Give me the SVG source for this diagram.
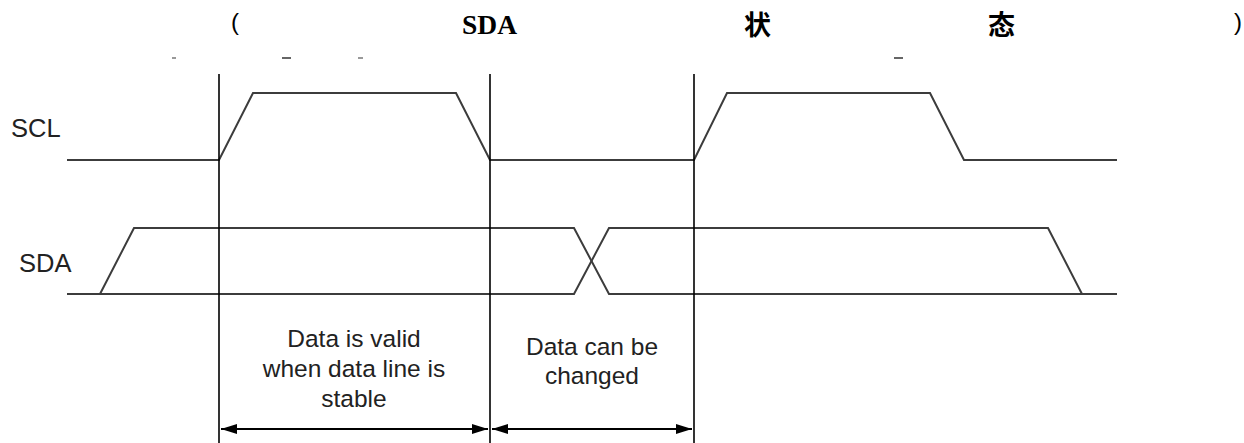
<svg xmlns="http://www.w3.org/2000/svg" width="1244" height="443" viewBox="0 0 1244 443">
<style>
.wave{fill:none;stroke:#3c3c3c;stroke-width:2;stroke-linejoin:miter}
.vline{stroke:#000;stroke-width:1.6}
.dim{stroke:#000;stroke-width:2;fill:none}
.lbl{font-family:"Liberation Sans",Arial,sans-serif;font-size:25.5px;fill:#222}
.note{font-family:"Liberation Sans",Arial,sans-serif;font-size:24.5px;fill:#222;text-anchor:middle}
.ttl{font-family:"Liberation Serif","Times New Roman",serif;font-weight:bold;font-size:27.5px;fill:#000}
.cjk{font-family:"Liberation Sans","Noto Sans CJK SC",sans-serif;font-weight:bold;font-size:27px;fill:#000}
.frag{stroke:#777;stroke-width:1.5}
</style>
<defs>
<marker id="ah" markerUnits="userSpaceOnUse" markerWidth="16" markerHeight="10" refX="16" refY="5" orient="auto-start-reverse">
<path d="M0,0 L16,5 L0,10 Z" fill="#000"/>
</marker>
</defs>
<g id="title">
<text class="cjk" x="231" y="30" style="font-weight:normal;font-size:24px">(</text>
<text class="ttl" x="462" y="34">SDA</text>
<text class="cjk" x="744" y="35">状</text>
<text class="cjk" x="988" y="35">态</text>
<text class="cjk" x="1234" y="30" style="font-weight:normal;font-size:24px">)</text>
</g>
<g id="fragments">
<line class="frag" x1="172" y1="58" x2="176" y2="58"/>
<line class="frag" x1="282" y1="58" x2="291" y2="58" style="stroke:#333"/>
<line class="frag" x1="358" y1="58" x2="363" y2="58"/>
<line class="frag" x1="894" y1="58" x2="903" y2="58" style="stroke:#333"/>
</g>
<g id="labels">
<text class="lbl" x="11" y="137">SCL</text>
<text class="lbl" x="19" y="272">SDA</text>
</g>
<g id="scl">
<path class="wave" d="M67,160 H219 L253,93 H456 L490,160 H694 L727,93 H930 L964,160 H1117"/>
</g>
<g id="sda">
<path class="wave" d="M67,294 H574 L609,228 H1048 L1082,294 H1117"/>
<path class="wave" d="M100,294 L134,228 H574 L609,294 H1082"/>
</g>
<g id="connectors">
<line class="vline" x1="219" y1="74" x2="219" y2="443"/>
<line class="vline" x1="490" y1="74" x2="490" y2="443"/>
<line class="vline" x1="694" y1="74" x2="694" y2="443"/>
<line class="dim" x1="221" y1="429" x2="488" y2="429" marker-start="url(#ah)" marker-end="url(#ah)"/>
<line class="dim" x1="492" y1="429" x2="692" y2="429" marker-start="url(#ah)" marker-end="url(#ah)"/>
</g>
<g id="valid-note">
<text class="note" x="354" y="347">Data is valid</text>
<text class="note" x="354" y="377">when data line is</text>
<text class="note" x="354" y="407">stable</text>
</g>
<g id="change-note">
<text class="note" x="592" y="355">Data can be</text>
<text class="note" x="592" y="384">changed</text>
</g>
</svg>
